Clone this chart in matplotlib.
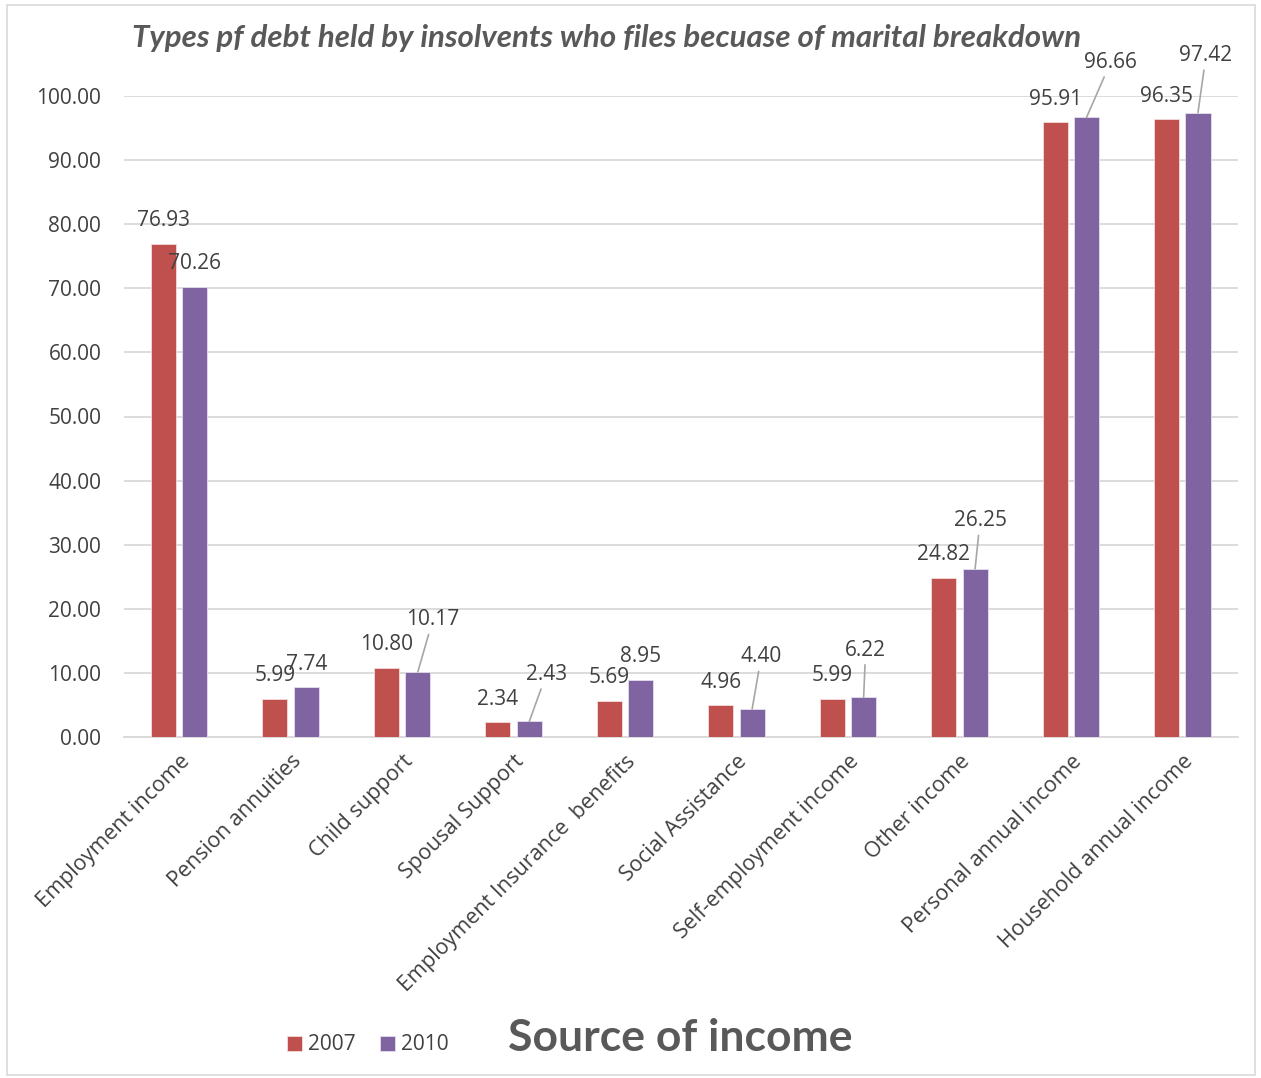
import numpy as np
import matplotlib
matplotlib.use("Agg")
import matplotlib.pyplot as plt
from matplotlib.patches import Rectangle

plt.rcParams['font.family'] = ['Open Sans', 'DejaVu Sans']

# Data
categories = ['Employment income', 'Pension annuities', 'Child support', 'Spousal Support',
              'Employment Insurance  benefits', 'Social Assistance', 'Self-employment income',
              'Other income', 'Personal annual income', 'Household annual income']
values_2007 = [76.93, 5.99, 10.80, 2.34, 5.69, 4.96, 5.99, 24.82, 95.91, 96.35]
values_2010 = [70.26, 7.74, 10.17, 2.43, 8.95, 4.40, 6.22, 26.25, 96.66, 97.42]
yticks = [0, 10, 20, 30, 40, 50, 60, 70, 80, 90, 100]

red = '#C0504D'
purple = '#8064A2'
text_grey = '#595959'
label_grey = '#404040'

# label offsets in pixels (dx, dy) and whether a leader line is drawn
offsets_2007 = [(0, 23), (0, 23), (0, 23), (0, 23), (0, 23), (0, 23), (0, 23), (0, 23), (0, 23), (0, 23)]
offsets_2010 = [(0, 23), (0, 23), (15, 52), (17, 47), (0, 23), (9, 52), (2, 47), (5, 48), (24, 55), (8, 57)]
leaders_2010 = [False, False, True, True, False, True, True, True, True, True]

fig = plt.figure(figsize=(12.61, 10.78), dpi=100)
fig.patches.append(Rectangle((7 / 1261, 3 / 1078), 1248 / 1261, 1070 / 1078,
                             transform=fig.transFigure, fill=False,
                             edgecolor='#D9D9D9', linewidth=1.2))

ax = fig.add_axes([123.5 / 1261, 1 - 737 / 1078, 1114.5 / 1261, 641 / 1078])

x = np.arange(len(categories))
w = 0.225
off = 0.141
bars1 = ax.bar(x - off, values_2007, w, color=red, edgecolor='#F2DCDB', linewidth=0.6, label='2007', zorder=3)
bars2 = ax.bar(x + off, values_2010, w, color=purple, edgecolor='#E4DFEC', linewidth=0.6, label='2010', zorder=3)

ax.set_xlim(-0.5, 9.5)
ax.set_ylim(0, 100)
ax.set_yticks(yticks)
ax.set_yticklabels([f'{t:.2f}' for t in yticks], fontsize=15, color=label_grey)
ax.set_xticks(x)
ax.set_xticklabels(categories, rotation=45, ha='right', va='top', rotation_mode='anchor',
                   fontsize=15.5, color=label_grey)
ax.tick_params(axis='both', length=0)
ax.tick_params(axis='y', pad=16)
ax.tick_params(axis='x', pad=10)
ax.grid(axis='y', color='#D9D9D9', linewidth=1.3, zorder=0)
for s in ['top', 'right', 'left']:
    ax.spines[s].set_visible(False)
ax.spines['bottom'].set_color('#D9D9D9')
ax.spines['bottom'].set_linewidth(1.3)

# Data labels
for i, v in enumerate(values_2007):
    ax.annotate(f'{v:.2f}', xy=(x[i] - off, v), xytext=offsets_2007[i], textcoords='offset pixels',
                ha='center', va='center', fontsize=15, color=label_grey, annotation_clip=False)
for i, v in enumerate(values_2010):
    props = None
    if leaders_2010[i]:
        props = dict(arrowstyle='-', color='#A6A6A6', lw=1.2, shrinkA=1, shrinkB=0)
    ax.annotate(f'{v:.2f}', xy=(x[i] + off, v), xytext=offsets_2010[i], textcoords='offset pixels',
                ha='center', va='center', fontsize=15, color=label_grey, annotation_clip=False,
                arrowprops=props)

fig.text(607 / 1261, 1 - 38 / 1078, 'Types pf debt held by insolvents who files becuase of marital breakdown',
         ha='center', va='center', fontsize=22.5, fontweight='bold', fontstyle='italic',
         color=text_grey, family=['Lato', 'DejaVu Sans'])
fig.text(680 / 1261, 1 - 1038 / 1078, 'Source of income', ha='center', va='center',
         fontsize=32, fontweight='bold', color=text_grey, family=['Lato', 'DejaVu Sans'])

fig.legend(handles=[bars1, bars2], labels=['2007', '2010'], loc='center',
           bbox_to_anchor=(368 / 1261, 1 - 1045 / 1078), ncol=2, frameon=False,
           fontsize=15, handlelength=0.7, handleheight=0.7, handletextpad=0.3,
           columnspacing=1.2, labelcolor=label_grey)

fig.savefig('out.png', dpi=100)
